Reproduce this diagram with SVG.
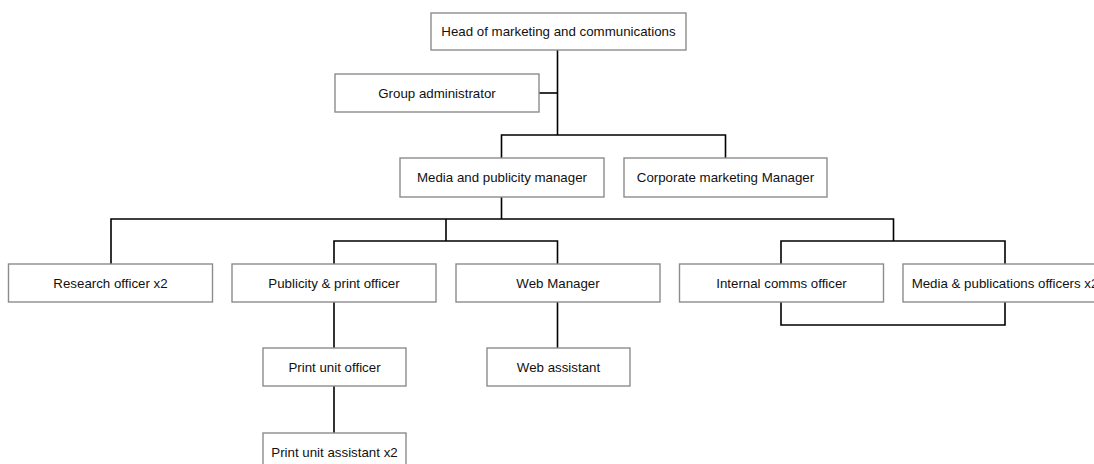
<svg xmlns="http://www.w3.org/2000/svg" width="1094" height="464" viewBox="0 0 1094 464">
<style>
.box{fill:#fff;stroke:#8c8c8c;stroke-width:1.4}
.lbl{font-family:"Liberation Sans",Arial,sans-serif;font-size:13.3px;fill:#111;text-anchor:middle}
.wire{fill:none;stroke:#000;stroke-width:1.6}
</style>
<rect width="1094" height="464" fill="#fff"/>
<g id="connectors">
<path class="wire" d="M557.5 50V135"/>
<path class="wire" d="M539 93H557.5"/>
<path class="wire" d="M501.5 158V135H725.5V158"/>
<path class="wire" d="M501.5 197V219"/>
<path class="wire" d="M111 264V219H893.5V241"/>
<path class="wire" d="M446 219V241"/>
<path class="wire" d="M334 264V241H557.5V264"/>
<path class="wire" d="M781 264V241H1005V264"/>
<path class="wire" d="M781 302V325H1005V302"/>
<path class="wire" d="M334 302V348"/>
<path class="wire" d="M334 386V433"/>
<path class="wire" d="M557.5 302V348"/>
</g>
<g id="head"><rect class="box" x="431" y="13" width="255" height="37"/><text class="lbl" x="558.5" y="36">Head of marketing and communications</text></g>
<g id="group-admin"><rect class="box" x="335" y="74" width="204" height="38"/><text class="lbl" x="437" y="97.5">Group administrator</text></g>
<g id="media-manager"><rect class="box" x="400" y="158" width="204" height="39"/><text class="lbl" x="502" y="182">Media and publicity manager</text></g>
<g id="corporate-manager"><rect class="box" x="624" y="158" width="203" height="39"/><text class="lbl" x="725.5" y="182">Corporate marketing Manager</text></g>
<g id="research"><rect class="box" x="8.5" y="264" width="204" height="38"/><text class="lbl" x="110.5" y="287.5">Research officer x2</text></g>
<g id="publicity"><rect class="box" x="232" y="264" width="204" height="38"/><text class="lbl" x="334" y="287.5">Publicity &amp; print officer</text></g>
<g id="web-manager"><rect class="box" x="456" y="264" width="204" height="38"/><text class="lbl" x="558" y="287.5">Web Manager</text></g>
<g id="internal-comms"><rect class="box" x="679.5" y="264" width="204" height="38"/><text class="lbl" x="781.5" y="287.5">Internal comms officer</text></g>
<g id="media-pubs"><rect class="box" x="903" y="264" width="204" height="38"/><text class="lbl" x="1005" y="287.5">Media &amp; publications officers x2</text></g>
<g id="print-unit-officer"><rect class="box" x="263" y="348" width="143" height="38"/><text class="lbl" x="334.5" y="371.5">Print unit officer</text></g>
<g id="print-unit-assistant"><rect class="box" x="263" y="433" width="143" height="38"/><text class="lbl" x="334.5" y="456.5">Print unit assistant x2</text></g>
<g id="web-assistant"><rect class="box" x="487" y="348" width="143" height="38"/><text class="lbl" x="558.5" y="371.5">Web assistant</text></g>
</svg>
